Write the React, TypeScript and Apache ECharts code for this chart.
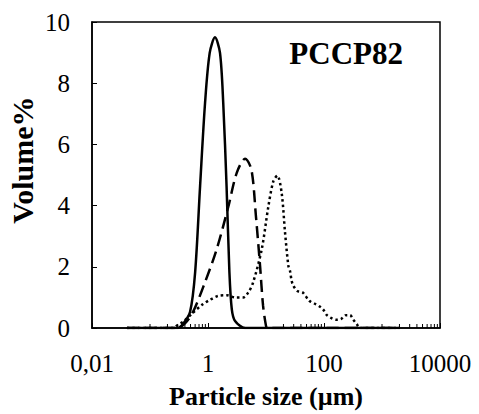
import React, { useEffect, useRef } from "react";
import * as echarts from "echarts";

// Particle size (µm) / Volume% pairs
const solidSizes = [0.04, 0.3, 0.37, 0.49, 0.6, 0.73, 0.89, 1.07, 1.32, 1.61, 1.83, 2.09, 2.34, 2.57, 2.93, 4.4, 2000];
const solidValues = [0, 0, 0.13, 0.52, 1.82, 4.63, 7.36, 8.99, 9.5, 8.99, 7.36, 4.63, 1.82, 0.62, 0.23, 0, 0];

const dashedSizes = [0.04, 0.3, 0.4, 0.55, 0.89, 1.41, 2.25, 3.13, 4.35, 5.6, 6.7, 7.9, 8.9, 10, 10.5, 2000];
const dashedValues = [0, 0, 0.15, 0.52, 1.5, 2.57, 3.98, 5.07, 5.53, 5.18, 3.66, 2.03, 0.73, 0.07, 0, 0];

const dottedSizes = [0.04, 0.25, 0.3, 0.37, 0.56, 0.78, 1.08, 1.5, 2.1, 2.92, 4.07, 4.95, 6.0, 8.44, 11.0, 13.4, 15.7, 18.6, 21.3, 24.3, 25.9, 27.7, 29.6, 34.7, 42.9, 55.8, 68, 83, 97, 111, 132, 161, 196, 239, 280, 320, 366, 417, 2000];
const dottedValues = [0, 0, 0.1, 0.2, 0.51, 0.75, 0.92, 1.05, 1.07, 1.0, 1.0, 1.16, 1.49, 2.57, 3.98, 4.8, 4.98, 4.42, 3.12, 2.03, 1.87, 1.54, 1.38, 1.21, 1.16, 0.89, 0.8, 0.71, 0.6, 0.43, 0.33, 0.27, 0.29, 0.42, 0.42, 0.27, 0.13, 0, 0];

const xTickValues = [0.01, 1, 100, 10000];
const xTickLabels = ["0,01", "1", "100", "10000"];
const minorTickValues = [
  0.1, 0.2, 0.3, 0.4, 0.5, 0.6, 0.7, 0.8, 0.9,
  10, 20, 30, 40, 50, 60, 70, 80, 90,
  1000, 2000, 3000, 4000, 5000, 6000, 7000, 8000, 9000,
];
const yTickLabels = ["0", "2", "4", "6", "8", "10"];

const FONT = "'Liberation Serif', 'Times New Roman', serif";

function pairs(xs: number[], ys: number[]) {
  return xs.map((x, i) => [x, ys[i]]);
}

export default function App() {
  const ref = useRef<HTMLDivElement>(null);
  useEffect(() => {
    if (!ref.current) return;
    const chart = echarts.init(ref.current, undefined, { renderer: "svg" });
    const lineBase = { type: "line", showSymbol: false, smooth: 0.3, silent: true, z: 3 };
    chart.setOption({
      animation: false,
      backgroundColor: "#fff",
      title: {
        text: "PCCP82",
        right: 76,
        top: 38,
        padding: 0,
        textStyle: { fontSize: 31, fontWeight: "bold", fontFamily: FONT, color: "#000" },
      },
      graphic: [
        {
          type: "text",
          x: 22,
          y: 160,
          rotation: Math.PI / 2,
          style: {
            text: "Volume%",
            font: `bold 30px ${FONT}`,
            fill: "#000",
            textAlign: "center",
            textVerticalAlign: "middle",
          },
        },
      ],
      grid: {
        left: 92,
        right: 39,
        top: 22,
        bottom: 85,
        show: true,
        borderColor: "#000",
        borderWidth: 1.5,
        backgroundColor: "transparent",
      },
      xAxis: {
        type: "log",
        logBase: 100,
        min: 0.01,
        max: 10000,
        name: "Particle size (µm)",
        nameLocation: "middle",
        nameGap: 55,
        nameTextStyle: { fontSize: 26, fontWeight: "bold", fontFamily: FONT, color: "#000" },
        axisLine: { show: true, lineStyle: { color: "#000", width: 1.5 } },
        axisTick: { show: true, inside: true, length: 5, lineStyle: { color: "#000", width: 1 } },
        axisLabel: {
          fontSize: 25,
          fontFamily: FONT,
          color: "#000",
          margin: 23,
          formatter: (v: number) => {
            let best = 0;
            xTickValues.forEach((t, i) => {
              if (Math.abs(Math.log10(t) - Math.log10(v)) < Math.abs(Math.log10(xTickValues[best]) - Math.log10(v))) best = i;
            });
            return xTickLabels[best];
          },
        },
        splitLine: { show: false },
        minorTick: { show: false },
      },
      yAxis: {
        type: "value",
        min: 0,
        max: 10,
        interval: 2,
        axisLine: { show: true, lineStyle: { color: "#000", width: 1.5 } },
        axisTick: { show: true, inside: true, length: 5, lineStyle: { color: "#000", width: 1 } },
        axisLabel: {
          fontSize: 25,
          fontFamily: FONT,
          color: "#000",
          margin: 22,
          formatter: (v: number) => yTickLabels[Math.round(v / 2)] ?? String(v),
        },
        splitLine: { show: false },
      },
      series: [
        {
          type: "custom",
          silent: true,
          z: 2,
          data: minorTickValues.map((v) => [v, 0]),
          renderItem: (params: any, api: any) => {
            const p = api.coord([api.value(0), 0]);
            return {
              type: "line",
              shape: { x1: p[0], y1: p[1], x2: p[0], y2: p[1] - 4 },
              style: { stroke: "#000", lineWidth: 1 },
            };
          },
        },
        {
          ...lineBase,
          name: "solid",
          data: pairs(solidSizes, solidValues),
          lineStyle: { color: "#000", width: 2.5, type: "solid" },
        },
        {
          ...lineBase,
          name: "dashed",
          data: pairs(dashedSizes, dashedValues),
          lineStyle: { color: "#000", width: 2.5, type: [12, 6] },
        },
        {
          ...lineBase,
          name: "dotted",
          data: pairs(dottedSizes, dottedValues),
          lineStyle: { color: "#000", width: 2.5, type: [2.5, 3] },
        },
      ],
    });
    return () => chart.dispose();
  }, []);
  return (
    <div
      ref={ref}
      style={{ position: "fixed", left: 0, top: 0, width: 479, height: 414, background: "#fff" }}
    />
  );
}
